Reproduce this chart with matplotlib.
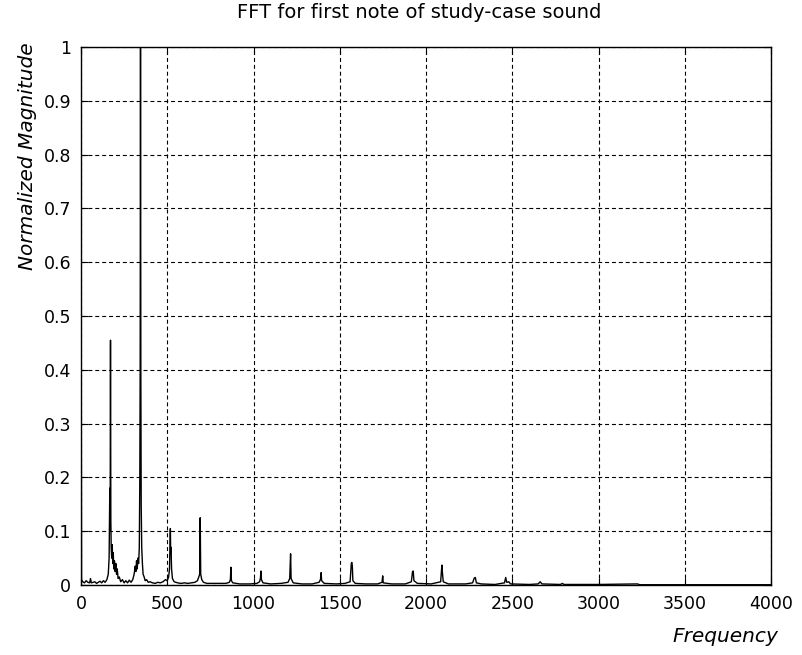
import matplotlib
matplotlib.use("Agg")
import matplotlib.pyplot as plt

# Spectrum (frequency in Hz, normalized magnitude)
freq = [0, 3, 10, 20, 30, 40, 50, 55, 60, 70, 80, 90, 100, 110, 120, 130, 140, 150,
        158, 163, 167, 169, 171, 173, 175, 178, 181, 184, 187, 190, 194, 198, 202, 206,
        210, 215, 222, 230, 240, 250, 260, 270, 280, 290, 300, 308, 314, 318, 322, 326,
        330, 334, 338, 341, 343, 345, 347, 349, 352, 356, 360, 366, 372, 380, 390, 400,
        415, 430, 445, 460, 475, 490, 500, 508, 513, 516, 518, 520, 522, 525, 530, 540,
        560, 580, 600, 620, 640, 660, 675, 683, 688, 691, 694, 700, 710, 730, 760, 800,
        840, 860, 866, 869, 872, 880, 920, 980, 1020, 1035, 1040, 1043, 1046, 1055, 1100,
        1160, 1200, 1210, 1215, 1218, 1230, 1280, 1340, 1380, 1388, 1392, 1395, 1410,
        1480, 1530, 1560, 1567, 1570, 1573, 1576, 1590, 1650, 1720, 1745, 1749, 1752,
        1800, 1880, 1915, 1922, 1926, 1930, 1950, 2030, 2085, 2092, 2096, 2100, 2130,
        2230, 2270, 2280, 2286, 2292, 2320, 2400, 2455, 2462, 2468, 2480, 2490, 2600,
        2650, 2662, 2672, 2780, 2790, 2800, 3000, 3225, 3240, 4000]
mag = [0.69, 0.01, 0.006, 0.004, 0.008, 0.005, 0.004, 0.012, 0.004, 0.005, 0.006, 0.003,
       0.005, 0.007, 0.004, 0.008, 0.005, 0.01,
       0.02, 0.05, 0.18, 0.10, 0.455, 0.12, 0.07, 0.05, 0.075, 0.04, 0.06, 0.03, 0.045,
       0.025, 0.04, 0.02,
       0.03, 0.012, 0.015, 0.006, 0.01, 0.004, 0.008, 0.004, 0.009, 0.005, 0.01, 0.02,
       0.035, 0.025, 0.045, 0.03,
       0.05, 0.04, 0.07, 0.2, 0.4, 1.0, 0.38, 0.15, 0.07, 0.04, 0.02, 0.015, 0.008, 0.01,
       0.005, 0.006,
       0.004, 0.003, 0.005, 0.004, 0.006, 0.01, 0.008, 0.015, 0.03, 0.07, 0.105, 0.06,
       0.07, 0.03, 0.012, 0.006,
       0.004, 0.003, 0.004, 0.003, 0.004, 0.005, 0.008, 0.015, 0.02, 0.125, 0.02, 0.01,
       0.005, 0.003, 0.003, 0.003,
       0.003, 0.005, 0.01, 0.033, 0.008, 0.004, 0.002, 0.002, 0.003, 0.006, 0.012, 0.026,
       0.01, 0.004, 0.002,
       0.003, 0.005, 0.012, 0.058, 0.012, 0.004, 0.002, 0.002, 0.005, 0.01, 0.023, 0.008,
       0.003,
       0.002, 0.003, 0.006, 0.04, 0.042, 0.035, 0.008, 0.003, 0.002, 0.002, 0.005, 0.017,
       0.004,
       0.002, 0.002, 0.006, 0.025, 0.026, 0.008, 0.003, 0.002, 0.006, 0.037, 0.02, 0.006,
       0.002,
       0.002, 0.004, 0.013, 0.014, 0.004, 0.002, 0.001, 0.004, 0.014, 0.005, 0.006, 0.002,
       0.001,
       0.002, 0.006, 0.002, 0.001, 0.003, 0.001, 0.001, 0.002, 0.0005, 0.0005]

x_ticks = [0, 500, 1000, 1500, 2000, 2500, 3000, 3500, 4000]
x_tick_labels = ["0", "500", "1000", "1500", "2000", "2500", "3000", "3500", "4000"]
y_ticks = [0, 0.1, 0.2, 0.3, 0.4, 0.5, 0.6, 0.7, 0.8, 0.9, 1.0]
y_tick_labels = ["0", "0.1", "0.2", "0.3", "0.4", "0.5", "0.6", "0.7", "0.8", "0.9", "1"]

plt.rcParams['font.family'] = ['DejaVu Sans']

fig = plt.figure(figsize=(8.02, 6.55), dpi=100)
ax = fig.add_axes([81 / 802, 1 - 585 / 655, 690 / 802, 538 / 655])

ax.plot(freq, mag, color="black", linewidth=1.0)

ax.set_xlim(0, 4000)
ax.set_ylim(0, 1)
ax.set_xticks(x_ticks)
ax.set_xticklabels(x_tick_labels)
ax.set_yticks(y_ticks)
ax.set_yticklabels(y_tick_labels)
ax.tick_params(direction="in", length=5, width=0.8, top=True, right=True,
               labelsize=12.5, pad=7, colors="black")

ax.grid(True, color="black", linewidth=0.8, linestyle=(0, (3.6, 2.6)))
for s in ax.spines.values():
    s.set_linewidth(1.0)
    s.set_color("black")

fig.text(0.523, 1 - 13 / 655, "FFT for first note of study-case sound",
         ha="center", va="center", fontsize=14, color="black")
fig.text(28 / 802, 1 - 156 / 655, "Normalized Magnitude", rotation=90,
         ha="center", va="center", fontsize=14.5, style="italic", color="black")
fig.text(725 / 802, 1 - 637 / 655, "Frequency", ha="center", va="center",
         fontsize=14.5, style="italic", color="black")

fig.savefig("out.png", dpi=100, facecolor="white")
